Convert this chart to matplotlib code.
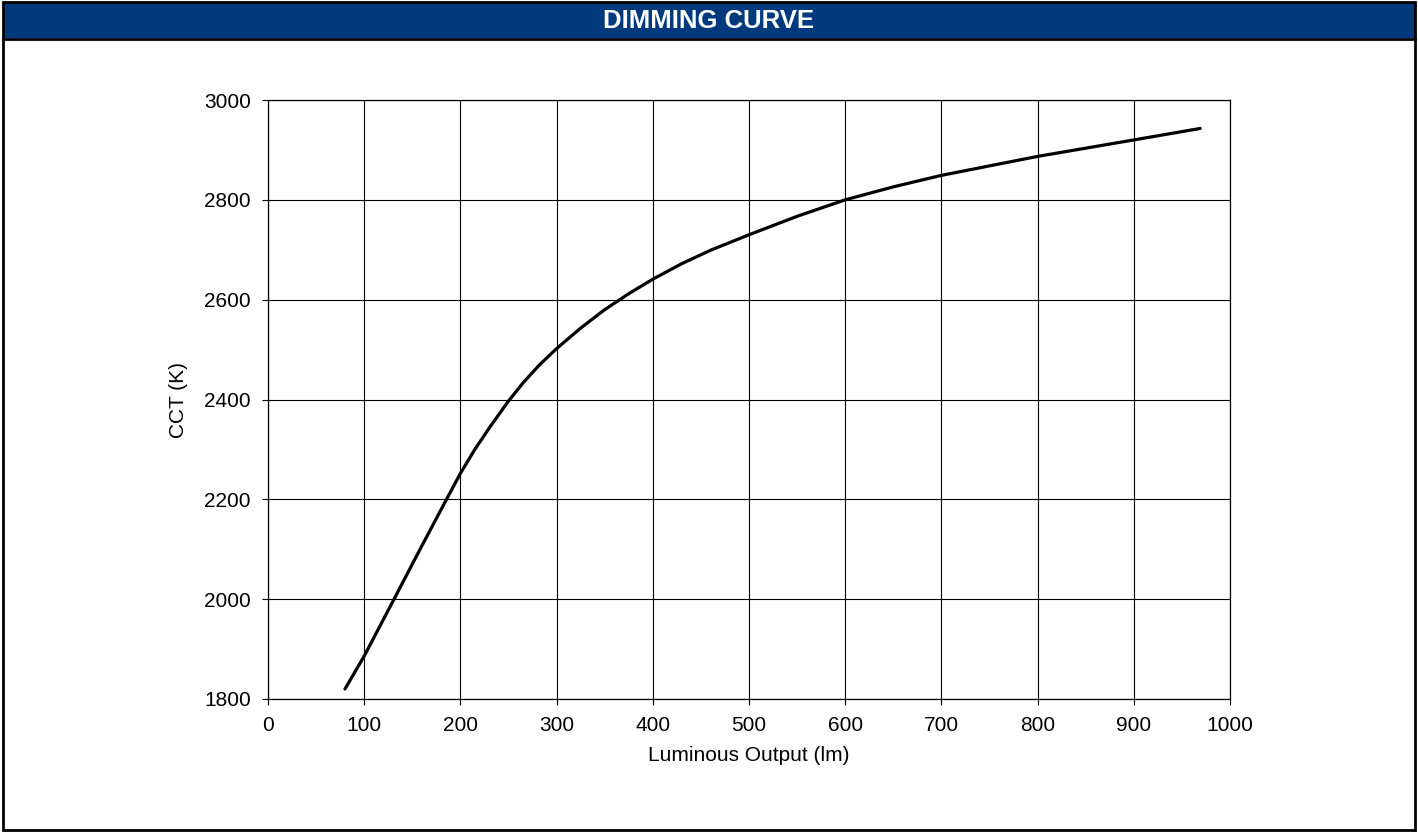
import matplotlib
matplotlib.use("Agg")
import matplotlib.pyplot as plt
from matplotlib.patches import Rectangle
from matplotlib.lines import Line2D

plt.rcParams['font.family'] = ['Liberation Sans', 'DejaVu Sans']

# data
lumens = [80, 100, 131, 160, 185, 200, 215, 230, 250, 265, 282, 300, 325, 350, 375, 400,
          430, 460, 500, 550, 600, 650, 700, 800, 900, 969]
cct = [1820, 1886, 2000, 2107, 2198, 2252, 2300, 2343, 2397, 2433, 2469, 2502, 2543, 2580, 2612, 2641,
       2672, 2699, 2730, 2767, 2800, 2826, 2849, 2887, 2920, 2943]

x_ticks = [0, 100, 200, 300, 400, 500, 600, 700, 800, 900, 1000]
y_ticks = [1800, 2000, 2200, 2400, 2600, 2800, 3000]

W, H = 1418, 833
fig = plt.figure(figsize=(W / 100, H / 100), dpi=100)

# header band and frame
fig.patches.append(Rectangle((3 / W, 1 - 38 / H), 1 - 6 / W, 35 / H, transform=fig.transFigure,
                             facecolor='#003A7D', edgecolor='none', zorder=0))
fig.lines.append(Line2D([3 / W, 1 - 3 / W], [1 - 39 / H, 1 - 39 / H], transform=fig.transFigure,
                        color='black', linewidth=2))
fig.patches.append(Rectangle((3 / W, 3 / H), 1 - 6 / W, 1 - 5 / H, transform=fig.transFigure,
                             facecolor='none', edgecolor='black', linewidth=2, zorder=5))
fig.text(0.5, 1 - 21 / H, 'DIMMING CURVE', color='white', fontsize=18.5, fontweight='bold',
         ha='center', va='center')

ax = fig.add_axes([268 / W, 134 / H, (1230 - 268) / W, (699 - 100) / H])
ax.plot(lumens, cct, color='black', linewidth=2.3, solid_capstyle='round', solid_joinstyle='round', zorder=3)

ax.set_xlim(0, 1000)
ax.set_ylim(1800, 3000)
ax.set_xticks(x_ticks)
ax.set_yticks(y_ticks)
ax.grid(True, color='black', linewidth=0.8)
ax.set_axisbelow(True)
for s in ax.spines.values():
    s.set_linewidth(0.9)
ax.tick_params(direction='out', length=4.5, width=0.8, labelsize=15)
ax.tick_params(axis='x', pad=8)
ax.tick_params(axis='y', pad=8)
ax.set_xlabel('Luminous Output (lm)', fontsize=15, labelpad=8)
ax.set_ylabel('CCT (K)', fontsize=15, labelpad=11)

fig.savefig('out.png', dpi=100)
